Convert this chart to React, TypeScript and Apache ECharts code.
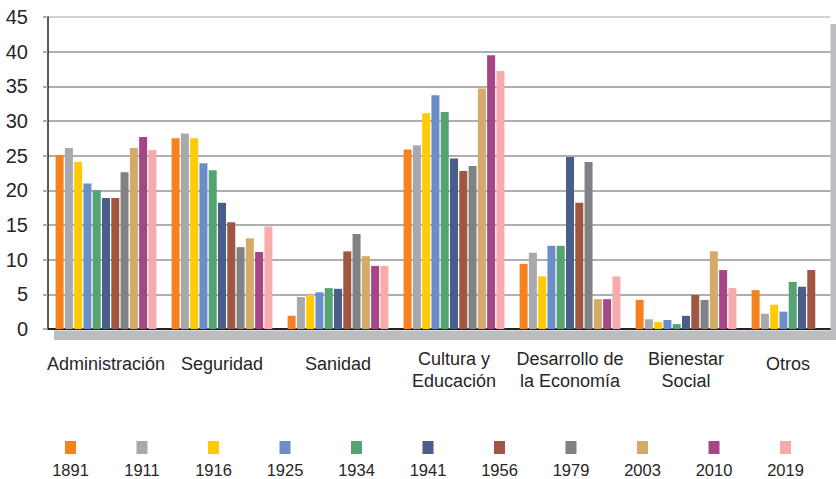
import React, { useEffect, useRef } from "react";
import * as echarts from "echarts";

const categories = [
  "Administración",
  "Seguridad",
  "Sanidad",
  "Cultura y\nEducación",
  "Desarrollo de\nla Economía",
  "Bienestar\nSocial",
  "Otros",
];

const years = ["1891", "1911", "1916", "1925", "1934", "1941", "1956", "1979", "2003", "2010", "2019"];

const v1891 = [25.1, 27.5, 1.9, 25.9, 9.4, 4.2, 5.6];
const v1911 = [26.1, 28.2, 4.6, 26.5, 11.0, 1.4, 2.2];
const v1916 = [24.1, 27.5, 4.9, 31.1, 7.6, 1.0, 3.5];
const v1925 = [21.0, 23.9, 5.3, 33.7, 12.0, 1.3, 2.5];
const v1934 = [20.0, 22.9, 5.9, 31.3, 12.0, 0.7, 6.8];
const v1941 = [18.9, 18.2, 5.8, 24.6, 24.8, 1.9, 6.1];
const v1956 = [18.9, 15.4, 11.2, 22.8, 18.2, 4.9, 8.5];
const v1979 = [22.6, 11.8, 13.7, 23.5, 24.1, 4.2, null];
const v2003 = [26.1, 13.1, 10.5, 34.7, 4.3, 11.2, null];
const v2010 = [27.7, 11.1, 9.1, 39.5, 4.3, 8.5, null];
const v2019 = [25.8, 14.8, 9.1, 37.2, 7.6, 5.9, null];

const seriesValues = [v1891, v1911, v1916, v1925, v1934, v1941, v1956, v1979, v2003, v2010, v2019];

const colors = [
  "#F5821F", "#A7A9AC", "#FFCB05", "#6D8DC8", "#55A273", "#4A5E8A",
  "#A15641", "#808184", "#D3AA67", "#A64684", "#F8ABAD",
];

const yTicks = [0, 5, 10, 15, 20, 25, 30, 35, 40, 45];

const FONT = "'Liberation Sans', Arial, sans-serif";

export default function App() {
  const ref = useRef<HTMLDivElement>(null);
  useEffect(() => {
    document.body.style.margin = "0";
    const chart = echarts.init(ref.current!, null, { renderer: "svg" });
    const legendGraphics: any[] = [];
    years.forEach((y, i) => {
      const cx = 70.5 + i * 71.5;
      legendGraphics.push({
        type: "rect",
        shape: { x: cx - 5.5, y: 441, width: 11, height: 13 },
        style: { fill: colors[i] },
      });
      legendGraphics.push({
        type: "text",
        x: cx,
        y: 470,
        style: {
          text: y,
          fill: "#262626",
          font: `16.5px ${FONT}`,
          textAlign: "center",
          textVerticalAlign: "middle",
        },
      });
    });
    const gridColors = yTicks.map((t) => (t === 45 ? "#C4C4C4" : "#959595"));
    chart.setOption({
      animation: false,
      grid: { left: 48, top: 17, width: 812, height: 312 },
      xAxis: {
        type: "category",
        data: categories.map((c, i) => {
          const single = c.indexOf("\n") < 0;
          if (i === categories.length - 1) return { value: c, textStyle: { padding: [5, 28, 0, 0] } };
          return single ? { value: c, textStyle: { padding: [5, 0, 0, 0] } } : c;
        }),
        axisLine: { lineStyle: { color: "#222", width: 2 } },
        axisTick: { show: false },
        axisLabel: {
          interval: 0,
          margin: 19,
          color: "#262626",
          fontSize: 18,
          lineHeight: 22,
          fontFamily: FONT,
        },
      },
      yAxis: {
        type: "value",
        min: 0,
        max: 45,
        interval: 5,
        axisLine: { show: true, lineStyle: { color: "#222", width: 1.5 } },
        axisTick: { show: true, length: 5, lineStyle: { color: "#959595", width: 1.5 } },
        splitLine: { lineStyle: { color: gridColors, width: 1.5 } },
        axisLabel: { margin: 20, color: "#262626", fontSize: 20, fontFamily: FONT },
      },
      series: years.map((y, i) => ({
        name: y,
        type: "bar",
        data: seriesValues[i],
        barWidth: 8,
        barGap: "16%",
        itemStyle: { color: colors[i] },
      })),
      graphic: [
        { type: "rect", shape: { x: 54, y: 330.5, width: 782, height: 9.5 }, style: { fill: "#BCBDC0" }, z: 100 },
        { type: "rect", shape: { x: 830, y: 0, width: 40, height: 24 }, style: { fill: "#FFFFFF" }, z: 100 },
        { type: "rect", shape: { x: 830.5, y: 24, width: 5.5, height: 316 }, style: { fill: "#BCBDC0" }, z: 100 },
        { type: "rect", shape: { x: 836, y: 24, width: 40, height: 316 }, style: { fill: "#FFFFFF" }, z: 100 },
        ...legendGraphics,
      ],
    });
    return () => chart.dispose();
  }, []);
  return (
    <div style={{ width: 836, height: 479, overflow: "hidden" }}>
      <div ref={ref} style={{ width: 870, height: 479 }} />
    </div>
  );
}
